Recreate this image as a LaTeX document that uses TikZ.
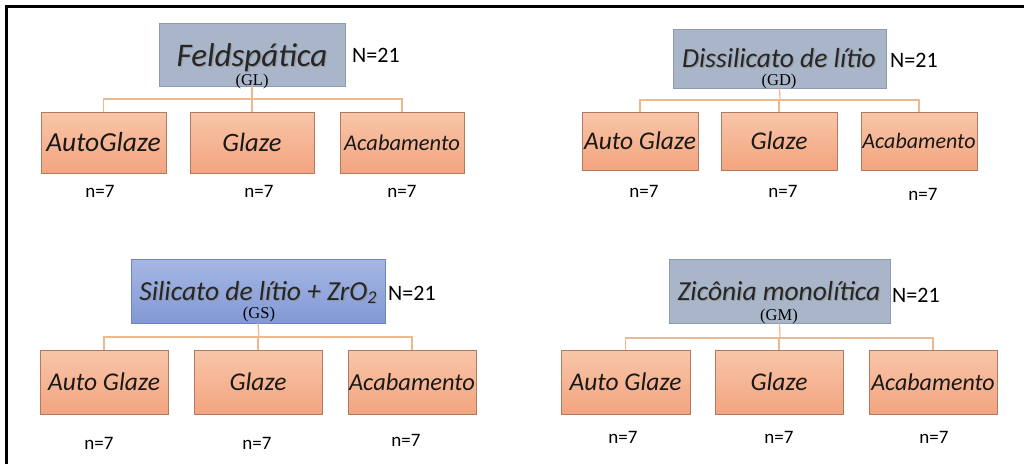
\documentclass[tikz,border=0pt]{standalone}
\usepackage{fontspec}
\setmainfont{Carlito}
\newfontfamily\serifGL{Liberation Serif}
\usetikzlibrary{shadings}
\definecolor{grayfill}{HTML}{A9B5C8}
\definecolor{grayline}{HTML}{8E9AB0}
\definecolor{bluetop}{HTML}{A6B7E4}
\definecolor{bluebot}{HTML}{8299D5}
\definecolor{blueline}{HTML}{6E84BE}
\definecolor{orgtop}{HTML}{F8C6A9}
\definecolor{orgbot}{HTML}{F3A47F}
\definecolor{orgline}{HTML}{B07A62}
\definecolor{connc}{HTML}{EDB88E}
\tikzset{
  grpbox/.style={draw=grayline, line width=0.8pt, fill=grayfill, inner sep=0pt},
  bluebox/.style={draw=blueline, line width=0.8pt, top color=bluetop, bottom color=bluebot, inner sep=0pt},
  childbox/.style={draw=orgline, line width=0.8pt, top color=orgtop, bottom color=orgbot, inner sep=0pt},
  titletxt/.style={inner sep=0pt, anchor=base, font=\fontsize{27.5}{27.5}\selectfont\itshape, text=black!85},
  titleshadow/.style={inner sep=0pt, anchor=base, font=\fontsize{27.5}{27.5}\selectfont\itshape, text=black!45, opacity=0.6},
  subtxt/.style={inner sep=0pt, anchor=base, font=\fontsize{16.5}{16.5}\selectfont\serifGL},
  bigN/.style={inner sep=0pt, anchor=base west, font=\fontsize{22}{22}\selectfont},
  smalln/.style={inner sep=0pt, anchor=base, font=\fontsize{19}{19}\selectfont},
  childtxt/.style={inner sep=0pt, font=\fontsize{25.5}{25.5}\selectfont\itshape, text=black!90},
  acabtxt/.style={inner sep=0pt, font=\fontsize{22.5}{22.5}\selectfont\itshape, text=black!90},
  conn/.style={draw=connc, line width=1.2pt},
}
\newcommand{\mybox}[6]{% name, style, x1, y1, x2, y2
  \node[#2, minimum width={(#5-#3)*1pt}, minimum height={(#6-#4)*1pt}] (#1) at ({(#3+#5)/2},{(#4+#6)/2}) {};
}
\begin{document}
\begin{tikzpicture}[x=1pt,y=-1pt]
\useasboundingbox (0,0) rectangle (1024,464);
\fill[white] (0,0) rectangle (1024,464);
\coordinate (bl) at (6.5,464);
\coordinate (tl) at (6.5,6.5);
\coordinate (tr) at (1024,6.5);
\draw[line width=3pt, black] (bl) -- (tl) -- (tr);

% ===== Group 1: Feldspatica =====
\mybox{t1}{grpbox}{159}{23}{345}{86}
\mybox{a1}{childbox}{41}{112}{166}{173}
\mybox{b1}{childbox}{190}{112}{314}{173}
\mybox{c1}{childbox}{340}{112}{464}{173}
\coordinate (j1) at (252,99);
\draw[conn] (t1.south) -- (j1);
\draw[conn] (j1) -| (a1.north);
\draw[conn] (j1) -| (b1.north);
\draw[conn] (j1) -| (c1.north);
\node[titleshadow, font=\fontsize{33}{33}\selectfont\itshape] (t1s) at (253.3,67.3) {Feldspática};
\node[titletxt, font=\fontsize{33}{33}\selectfont\itshape] (t1t) at (252,66) {Feldspática};
\node[subtxt] (t1g) at (252,85) {(GL)};
\node[bigN] (t1n) at (352,62) {N=21};
\node[childtxt, font=\fontsize{27.5}{27.5}\selectfont\itshape] (a1t) at (a1.center) {AutoGlaze};
\node[childtxt, font=\fontsize{26.5}{26.5}\selectfont\itshape] (b1t) at (b1.center) {Glaze};
\node[acabtxt] (c1t) at (c1.center) {Acabamento};
\node[smalln] (a1n) at (100,197) {n=7};
\node[smalln] (b1n) at (259,197) {n=7};
\node[smalln] (c1n) at (402,197) {n=7};

% ===== Group 2: Dissilicato =====
\mybox{t2}{grpbox}{673}{29}{886}{88}
\mybox{a2}{childbox}{582}{112}{698}{170}
\mybox{b2}{childbox}{721}{112}{837}{170}
\mybox{c2}{childbox}{861}{112}{977}{170}
\coordinate (j2) at (780,100);
\draw[conn] (t2.south) -- (j2);
\draw[conn] (j2) -| (a2.north);
\draw[conn] (j2) -| (b2.north);
\draw[conn] (j2) -| (c2.north);
\node[titleshadow] (t2s) at (780.2,68.2) {Dissilicato de lítio};
\node[titletxt] (t2t) at (779,67) {Dissilicato de lítio};
\node[subtxt] (t2g) at (779,85) {(GD)};
\node[bigN] (t2n) at (890,67) {N=21};
\node[childtxt] (a2t) at (a2.center) {Auto Glaze};
\node[childtxt] (b2t) at (b2.center) {Glaze};
\node[acabtxt, font=\fontsize{22}{22}\selectfont\itshape] (c2t) at (c2.center) {Acabamento};
\node[smalln] (a2n) at (644,197) {n=7};
\node[smalln] (b2n) at (783,197) {n=7};
\node[smalln] (c2n) at (923,200) {n=7};

% ===== Group 3: Silicato + ZrO2 =====
\mybox{t3}{bluebox}{131}{259}{385}{323}
\mybox{a3}{childbox}{40}{350}{168}{414}
\mybox{b3}{childbox}{194}{350}{322}{414}
\mybox{c3}{childbox}{348}{350}{476}{414}
\coordinate (j3) at (259,337);
\draw[conn] (t3.south) -- (j3);
\draw[conn] (j3) -| (a3.north);
\draw[conn] (j3) -| (b3.north);
\draw[conn] (j3) -| (c3.north);
\node[titleshadow] (t3s) at (259.2,301.2) {Silicato de lítio + ZrO\raisebox{-3pt}{\fontsize{18}{18}\selectfont 2}};
\node[titletxt] (t3t) at (258,300) {Silicato de lítio + ZrO\raisebox{-3pt}{\fontsize{18}{18}\selectfont 2}};
\node[subtxt] (t3g) at (259,318) {(GS)};
\node[bigN] (t3n) at (388,300) {N=21};
\node[childtxt] (a3t) at (a3.center) {Auto Glaze};
\node[childtxt] (b3t) at (b3.center) {Glaze};
\node[acabtxt, font=\fontsize{24.5}{24.5}\selectfont\itshape] (c3t) at (c3.center) {Acabamento};
\node[smalln] (a3n) at (99,449) {n=7};
\node[smalln] (b3n) at (257,449) {n=7};
\node[smalln] (c3n) at (406,446) {n=7};

% ===== Group 4: Zirconia =====
\mybox{t4}{grpbox}{669}{259}{890}{323}
\mybox{a4}{childbox}{561}{350}{690}{414}
\mybox{b4}{childbox}{715}{350}{843}{414}
\mybox{c4}{childbox}{869}{350}{997}{414}
\coordinate (j4) at (780,338);
\draw[conn] (t4.south) -- (j4);
\draw[conn] (j4) -| (a4.north);
\draw[conn] (j4) -| (b4.north);
\draw[conn] (j4) -| (c4.north);
\node[titleshadow] (t4s) at (780.2,301.2) {Zicônia monolítica};
\node[titletxt] (t4t) at (779,300) {Zicônia monolítica};
\node[subtxt] (t4g) at (779,320) {(GM)};
\node[bigN] (t4n) at (892,302) {N=21};
\node[childtxt] (a4t) at (a4.center) {Auto Glaze};
\node[childtxt] (b4t) at (b4.center) {Glaze};
\node[acabtxt, font=\fontsize{24}{24}\selectfont\itshape] (c4t) at (c4.center) {Acabamento};
\node[smalln] (a4n) at (623,443) {n=7};
\node[smalln] (b4n) at (779,443) {n=7};
\node[smalln] (c4n) at (934,443) {n=7};
\end{tikzpicture}
\end{document}
